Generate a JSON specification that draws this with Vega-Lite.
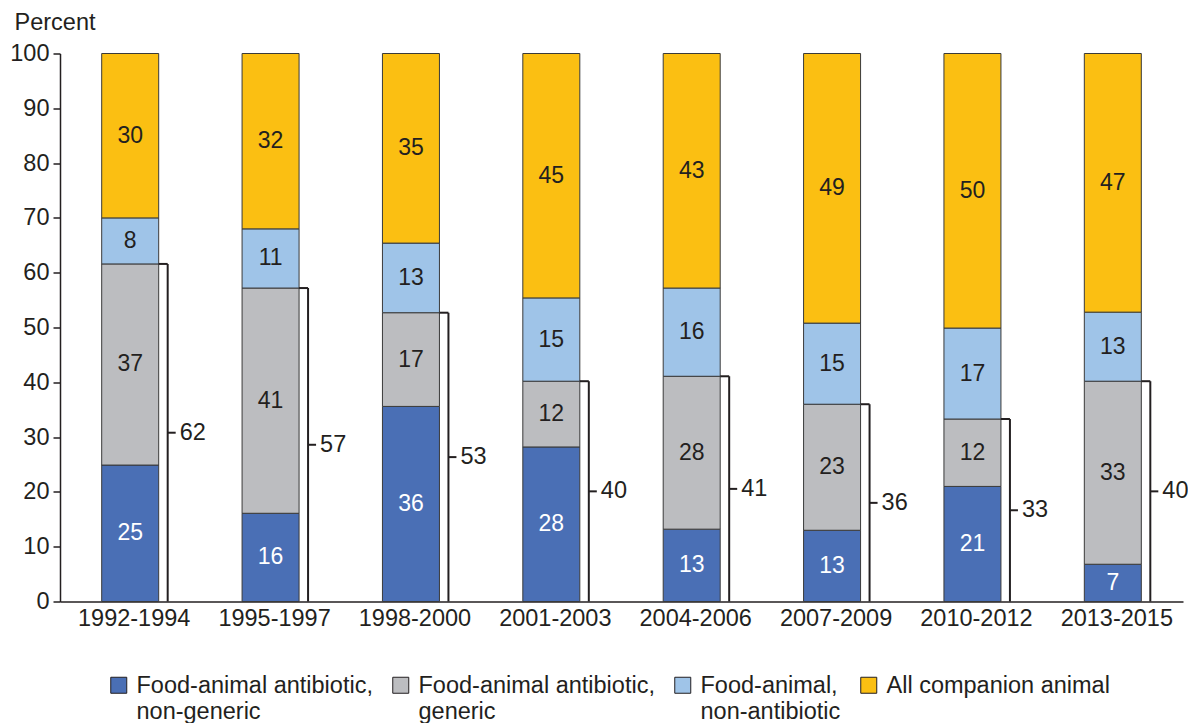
{
  "$schema": "https://vega.github.io/schema/vega-lite/v6.json",
  "width": 1123,
  "height": 548,
  "autosize": {"type": "none"},
  "padding": {"left": 60, "top": 53.5, "right": 5, "bottom": 121.5},
  "config": {
    "view": {"stroke": null},
    "font": "Liberation Sans"
  },
  "datasets": {
    "shares": [
      {"period": "1992-1994", "category": "Food-animal antibiotic, non-generic", "order": 1, "value": 24.9},
      {"period": "1992-1994", "category": "Food-animal antibiotic, generic", "order": 2, "value": 36.7},
      {"period": "1992-1994", "category": "Food-animal, non-antibiotic", "order": 3, "value": 8.4},
      {"period": "1992-1994", "category": "All companion animal", "order": 4, "value": 30.0},
      {"period": "1995-1997", "category": "Food-animal antibiotic, non-generic", "order": 1, "value": 16.1},
      {"period": "1995-1997", "category": "Food-animal antibiotic, generic", "order": 2, "value": 41.1},
      {"period": "1995-1997", "category": "Food-animal, non-antibiotic", "order": 3, "value": 10.8},
      {"period": "1995-1997", "category": "All companion animal", "order": 4, "value": 32.0},
      {"period": "1998-2000", "category": "Food-animal antibiotic, non-generic", "order": 1, "value": 35.6},
      {"period": "1998-2000", "category": "Food-animal antibiotic, generic", "order": 2, "value": 17.1},
      {"period": "1998-2000", "category": "Food-animal, non-antibiotic", "order": 3, "value": 12.7},
      {"period": "1998-2000", "category": "All companion animal", "order": 4, "value": 34.6},
      {"period": "2001-2003", "category": "Food-animal antibiotic, non-generic", "order": 1, "value": 28.2},
      {"period": "2001-2003", "category": "Food-animal antibiotic, generic", "order": 2, "value": 12.0},
      {"period": "2001-2003", "category": "Food-animal, non-antibiotic", "order": 3, "value": 15.2},
      {"period": "2001-2003", "category": "All companion animal", "order": 4, "value": 44.6},
      {"period": "2004-2006", "category": "Food-animal antibiotic, non-generic", "order": 1, "value": 13.2},
      {"period": "2004-2006", "category": "Food-animal antibiotic, generic", "order": 2, "value": 27.9},
      {"period": "2004-2006", "category": "Food-animal, non-antibiotic", "order": 3, "value": 16.1},
      {"period": "2004-2006", "category": "All companion animal", "order": 4, "value": 42.8},
      {"period": "2007-2009", "category": "Food-animal antibiotic, non-generic", "order": 1, "value": 13.0},
      {"period": "2007-2009", "category": "Food-animal antibiotic, generic", "order": 2, "value": 23.0},
      {"period": "2007-2009", "category": "Food-animal, non-antibiotic", "order": 3, "value": 14.8},
      {"period": "2007-2009", "category": "All companion animal", "order": 4, "value": 49.2},
      {"period": "2010-2012", "category": "Food-animal antibiotic, non-generic", "order": 1, "value": 21.0},
      {"period": "2010-2012", "category": "Food-animal antibiotic, generic", "order": 2, "value": 12.3},
      {"period": "2010-2012", "category": "Food-animal, non-antibiotic", "order": 3, "value": 16.6},
      {"period": "2010-2012", "category": "All companion animal", "order": 4, "value": 50.1},
      {"period": "2013-2015", "category": "Food-animal antibiotic, non-generic", "order": 1, "value": 6.8},
      {"period": "2013-2015", "category": "Food-animal antibiotic, generic", "order": 2, "value": 33.4},
      {"period": "2013-2015", "category": "Food-animal, non-antibiotic", "order": 3, "value": 12.6},
      {"period": "2013-2015", "category": "All companion animal", "order": 4, "value": 47.2}
    ],
    "brackets": [
      {"period": "1992-1994", "total": 61.6},
      {"period": "1995-1997", "total": 57.2},
      {"period": "1998-2000", "total": 52.7},
      {"period": "2001-2003", "total": 40.2},
      {"period": "2004-2006", "total": 41.1},
      {"period": "2007-2009", "total": 36.0},
      {"period": "2010-2012", "total": 33.3},
      {"period": "2013-2015", "total": 40.2}
    ]
  },
  "layer": [
    {
      "data": {"name": "shares"},
      "transform": [
        {"stack": "value", "groupby": ["period"], "sort": [{"field": "order", "order": "ascending"}], "as": ["y0", "y1"]},
        {"calculate": "(datum.y0 + datum.y1) / 2", "as": "mid"}
      ],
      "layer": [
        {
          "mark": {"type": "bar", "size": 57, "stroke": "#3a3a3a", "strokeWidth": 1},
          "encoding": {
            "x": {
              "field": "period", "type": "nominal", "sort": null,
              "scale": {"paddingInner": 0, "paddingOuter": 0},
              "axis": {
                "title": null, "labelAngle": 0, "ticks": false, "labelPadding": 5, "labelOffset": 4,
                "labelFontSize": 23.5, "labelColor": "#231f20",
                "domainColor": "#231f20", "domainWidth": 1.5
              }
            },
            "y": {
              "field": "y0", "type": "quantitative",
              "scale": {"domain": [0, 100], "nice": false},
              "axis": {
                "values": [0, 10, 20, 30, 40, 50, 60, 70, 80, 90, 100],
                "grid": false,
                "title": "Percent", "titleAngle": 0, "titleX": -46, "titleY": -24.5,
                "titleAlign": "left", "titleBaseline": "alphabetic",
                "titleFontSize": 23.5, "titleFontWeight": "normal", "titleColor": "#231f20",
                "labelFontSize": 23.5, "labelColor": "#231f20", "labelPadding": 4,
                "tickSize": 7, "tickColor": "#231f20", "tickWidth": 1.5,
                "domainColor": "#231f20", "domainWidth": 1.5
              }
            },
            "y2": {"field": "y1"},
            "color": {
              "field": "category", "type": "nominal",
              "scale": {
                "domain": ["Food-animal antibiotic, non-generic", "Food-animal antibiotic, generic", "Food-animal, non-antibiotic", "All companion animal"],
                "range": ["#4a6fb5", "#bcbdc0", "#9fc4e8", "#fbbf12"]
              },
              "legend": {
                "orient": "none", "legendX": 47, "legendY": 620,
                "direction": "horizontal", "columns": 4, "title": null,
                "symbolType": "square", "symbolSize": 256,
                "symbolStrokeColor": "#231f20", "symbolStrokeWidth": 1,
                "labelFontSize": 23.5, "labelColor": "#231f20", "labelLimit": 400,
                "columnPadding": 16, "labelOffset": 6, "padding": 0, "gridAlign": "none",
                "labelBaseline": "alphabetic",
                "labelExpr": "datum.label == 'All companion animal' ? datum.label : split(replace(datum.label, ', ', ',|'), '|')",
                "encoding": {"labels": {"dy": {"value": 8}}}
              }
            }
          }
        },
        {
          "mark": {"type": "text", "fontSize": 23, "baseline": "middle", "align": "center"},
          "encoding": {
            "x": {"field": "period", "type": "nominal", "sort": null},
            "y": {"field": "mid", "type": "quantitative"},
            "text": {"field": "value", "type": "quantitative", "format": ".0f"},
            "color": {
              "condition": {"test": "datum.category === 'Food-animal antibiotic, non-generic'", "value": "#ffffff"},
              "value": "#231f20"
            }
          }
        }
      ]
    },
    {
      "data": {"name": "brackets"},
      "transform": [{"calculate": "datum.total / 2", "as": "half"}],
      "layer": [
        {
          "mark": {"type": "bar", "size": 2, "xOffset": 37.5, "color": "#231f20"},
          "encoding": {
            "x": {"field": "period", "type": "nominal", "sort": null},
            "y": {"field": "total", "type": "quantitative"}
          }
        },
        {
          "mark": {"type": "tick", "orient": "horizontal", "size": 9, "thickness": 2, "color": "#231f20", "opacity": 1, "xOffset": 33},
          "encoding": {
            "x": {"field": "period", "type": "nominal", "sort": null},
            "y": {"field": "total", "type": "quantitative"}
          }
        },
        {
          "mark": {"type": "tick", "orient": "horizontal", "size": 8, "thickness": 2, "color": "#231f20", "opacity": 1, "xOffset": 41.5},
          "encoding": {
            "x": {"field": "period", "type": "nominal", "sort": null},
            "y": {"field": "half", "type": "quantitative"}
          }
        },
        {
          "mark": {"type": "text", "fontSize": 23.5, "baseline": "middle", "align": "left", "dx": 49.5, "color": "#231f20"},
          "encoding": {
            "x": {"field": "period", "type": "nominal", "sort": null},
            "y": {"field": "half", "type": "quantitative"},
            "text": {"field": "total", "type": "quantitative", "format": ".0f"}
          }
        }
      ]
    }
  ]
}
